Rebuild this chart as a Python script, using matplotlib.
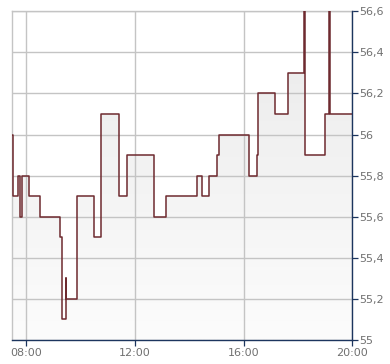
import matplotlib
matplotlib.use("Agg")
import matplotlib.pyplot as plt
import numpy as np
from matplotlib.colors import LinearSegmentedColormap
from matplotlib.ticker import FuncFormatter

# step-chart data: time in hours, price (value holds until next time)
times = [7.49, 7.523, 7.706, 7.780, 7.853, 8.110, 8.514, 9.248, 9.321,
         9.468, 9.480, 9.872, 10.495, 10.752, 11.413, 11.706, 12.70,
         13.127, 14.29, 14.459, 14.716, 15.009, 15.083, 16.183, 16.492,
         16.529, 17.138, 17.615, 18.228, 18.265, 18.987, 19.145, 19.182, 20.0]
prices = [56.0, 55.7, 55.8, 55.6, 55.8, 55.7, 55.6, 55.5, 55.1,
          55.3, 55.2, 55.7, 55.5, 56.1, 55.7, 55.9, 55.6,
          55.7, 55.8, 55.7, 55.8, 55.9, 56.0, 55.8, 55.9,
          56.2, 56.1, 56.3, 56.6, 55.9, 56.1, 56.6, 56.1, 56.1]

x_ticks = [8, 12, 16, 20]
x_labels = ["08:00", "12:00", "16:00", "20:00"]
y_ticks = [55.0, 55.2, 55.4, 55.6, 55.8, 56.0, 56.2, 56.4, 56.6]

LINE = "#6e2a2f"
GRID = "#c4c4c4"
NAVY = "#1c355e"
TEXT = "#707070"

fig = plt.figure(figsize=(3.9, 3.64), dpi=100)
ax = fig.add_axes([0.0315, 0.0659, 0.872, 0.903])

x0, x1, y0, y1 = 7.49, 20.0, 55.0, 56.6

# gradient fill under the step line (kept below the grid)
poly = ax.fill_between(times, prices, y0, step="post", facecolor="none",
                       edgecolor="none")
path = poly.get_paths()[0]
cmap = LinearSegmentedColormap.from_list("g", ["#fcfcfc", "#eaeaea"])
grad = np.linspace(0, 1, 256).reshape(-1, 1)
im = ax.imshow(grad, cmap=cmap, origin="lower", aspect="auto",
               extent=[x0, x1, y0, y1], zorder=0.1)
im.set_clip_path(path, transform=ax.transData)

ax.step(times, prices, where="post", color=LINE, lw=1.1, zorder=3)

ax.set_xlim(x0, x1)
ax.set_ylim(y0, y1)

ax.set_xticks(x_ticks)
ax.set_xticklabels(x_labels)
ax.set_yticks(y_ticks)
ax.yaxis.set_major_formatter(
    FuncFormatter(lambda v, p: f"{v:.1f}".rstrip("0").rstrip(".").replace(".", ",")))
ax.yaxis.tick_right()

ax.set_axisbelow(True)
ax.grid(True, color=GRID, lw=1.0)

ax.tick_params(axis="both", labelsize=8, labelcolor=TEXT, color=NAVY,
               length=4, width=0.9, direction="out", pad=2)
ax.tick_params(axis="y", pad=1)

for side in ["left", "top"]:
    ax.spines[side].set_color(GRID)
    ax.spines[side].set_linewidth(1.0)
for side in ["right", "bottom"]:
    ax.spines[side].set_color(NAVY)
    ax.spines[side].set_linewidth(1.0)
ax.spines["right"].set_zorder(4)

fig.savefig("out.png", dpi=100)
